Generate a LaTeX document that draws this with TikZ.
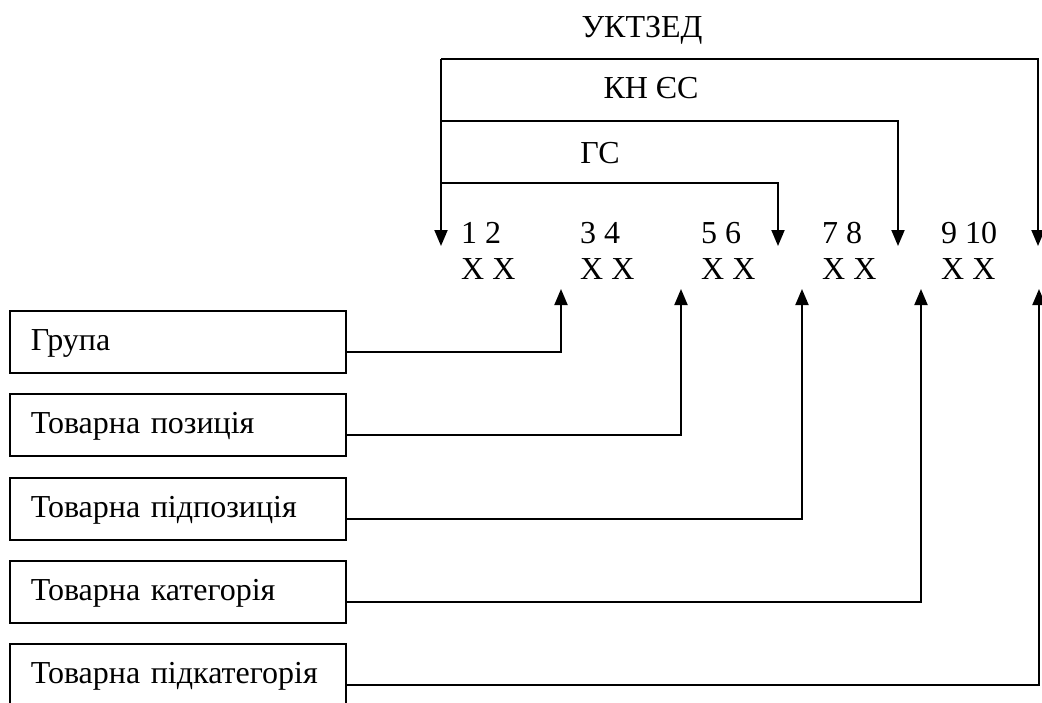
\documentclass[tikz,border=0pt]{standalone}
\usepackage{fontspec}
\setmainfont{Liberation Serif}
\usetikzlibrary{arrows.meta}
\begin{document}
\begin{tikzpicture}[x=1pt,y=-1pt,
  every node/.style={font=\fontsize{32}{36}\selectfont, inner sep=0pt},
  conn/.style={line width=1.9pt},
  arr/.style={conn, -{Triangle[length=16pt,width=13pt]}},
  catbox/.style={draw, line width=1.7pt, text width=294pt, inner xsep=21pt, inner ysep=0pt, align=left, text height=22pt, text depth=4pt, minimum height=62pt, anchor=north west},
  lbl/.style={anchor=west}]
\useasboundingbox (0,0) rectangle (1042,702);
\clip (0,0) rectangle (1042,702);
% titles
\node (ukt) at (642,30) {УКТЗЕД};
\node (kn) at (651,88) {КН ЄС};
\node (gs) at (600,153) {ГС};
% digit labels
\node[lbl] (d1) at (461,233) {1 2};
\node[lbl] (d2) at (580,233) {3 4};
\node[lbl] (d3) at (701,233) {5 6};
\node[lbl] (d4) at (822,233) {7 8};
\node[lbl] (d5) at (941,233) {9 10};
\node[lbl] (x1) at (461,269) {X X};
\node[lbl] (x2) at (580,269) {X X};
\node[lbl] (x3) at (701,269) {X X};
\node[lbl] (x4) at (822,269) {X X};
\node[lbl] (x5) at (941,269) {X X};
% bracket coordinates
\coordinate (top3) at (441,59);
\coordinate (top2) at (441,121);
\coordinate (top1) at (441,183);
\coordinate (down0) at (441,246);
\coordinate (down1) at (778,246);
\coordinate (down2) at (898,246);
\coordinate (down3) at (1038,246);
\draw[arr] (top3) -- (down0);
\draw[arr] (top1) -| (down1);
\draw[arr] (top2) -| (down2);
\draw[arr] (top3) -| (down3);
% boxes
\node[catbox] (g1) at (9,310) {Група};
\node[catbox] (g2) at (9,393) {Товарна позиція};
\node[catbox] (g3) at (9,477) {Товарна підпозиція};
\node[catbox] (g4) at (9,560) {Товарна категорія};
\node[catbox] (g5) at (9,643) {Товарна підкатегорія};
% up arrow tips
\coordinate (u1) at (561,289);
\coordinate (u2) at (681,289);
\coordinate (u3) at (802,289);
\coordinate (u4) at (921,289);
\coordinate (u5) at (1039,289);
\draw[arr] ([yshift=-10pt]g1.east) -| (u1);
\draw[arr] ([yshift=-10pt]g2.east) -| (u2);
\draw[arr] ([yshift=-10pt]g3.east) -| (u3);
\draw[arr] ([yshift=-10pt]g4.east) -| (u4);
\draw[arr] ([yshift=-10pt]g5.east) -| (u5);
\end{tikzpicture}
\end{document}
